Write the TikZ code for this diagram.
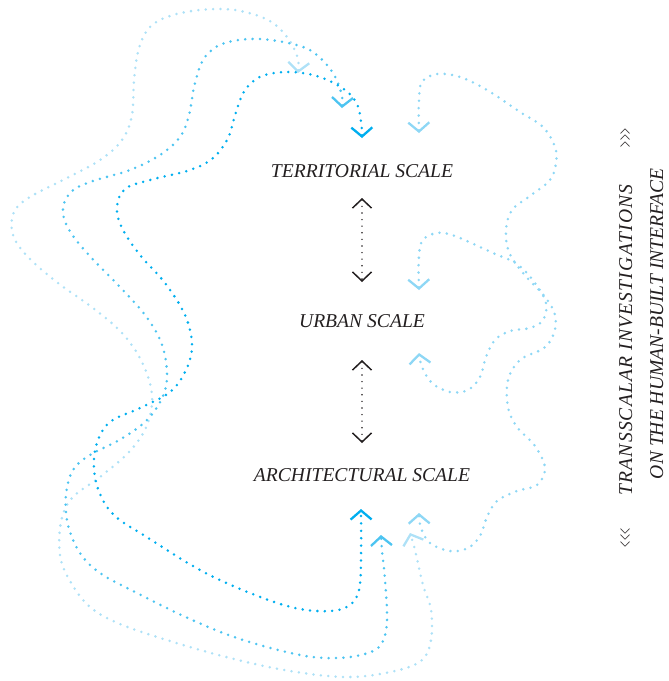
\documentclass[tikz,border=0pt]{standalone}
\usepackage{fontspec}
\setmainfont{Liberation Serif}
\newfontfamily\trackedserif[LetterSpace=6]{Liberation Serif}
\usetikzlibrary{arrows.meta}

\definecolor{inkblack}{HTML}{231F20}
\definecolor{cyanA}{HTML}{00AEEF}
\definecolor{cyanB}{HTML}{4DC4F1}
\definecolor{cyanC}{HTML}{AEE1F7}
\definecolor{cyanR}{HTML}{8ED7F5}

\begin{document}
\begin{tikzpicture}[x=1pt,y=-1pt,
  lbl/.style={font=\fontsize{19.6}{23}\selectfont\itshape, text=inkblack, inner sep=0pt, anchor=base},
  loopline/.style={line width=2.8pt, line cap=round, dash pattern=on 0pt off 7.4pt,
    arrows={Straight Barb[length=9pt,width=21pt,line width=2.3pt]-Straight Barb[length=9pt,width=21pt,line width=2.3pt]}},
  linkline/.style={draw=inkblack, line width=1.6pt, line cap=round, dash pattern=on 0pt off 6.6pt,
    arrows={Straight Barb[length=9pt,width=19pt,line width=1.5pt]-Straight Barb[length=9pt,width=19pt,line width=1.5pt]}},
  flow/.style={smooth, tension=0.6}
]
\useasboundingbox (0,0) rectangle (669,681);

% scale labels
\node[lbl] (ter) at (362,177) {TERRITORIAL SCALE};
\node[lbl] (urb) at (362,327) {URBAN SCALE};
\node[lbl] (arc) at (362,481) {ARCHITECTURAL SCALE};

% side title
\node[lbl, font=\fontsize{19.6}{23}\selectfont\trackedserif\itshape, rotate=90] (title1) at (632,340) {TRANSSCALAR INVESTIGATIONS};
\node[lbl, rotate=90] (title2) at (663,324) {ON THE HUMAN-BUILT INTERFACE};
\node[lbl, font=\fontsize{21}{23}\selectfont\upshape, rotate=90] (chevL) at (632,538) {\scalebox{0.5}[1]{<\kern2pt<\kern2pt<}};
\node[lbl, font=\fontsize{21}{23}\selectfont\upshape, rotate=90] (chevR) at (632,138) {\scalebox{0.5}[1]{>\kern2pt>\kern2pt>}};

% arrow end points around the labels
\coordinate (ter-a) at (362,138);
\coordinate (ter-b) at (342,108);
\coordinate (ter-c) at (298,73);
\coordinate (ter-r) at (419,133);
\coordinate (ter-dn) at (362,198);
\coordinate (urb-up) at (362,282);
\coordinate (urb-dn) at (362,360);
\coordinate (urb-r) at (419,290);
\coordinate (urb-s) at (419,353);
\coordinate (arc-up) at (362,443);
\coordinate (arc-a) at (361,509);
\coordinate (arc-b) at (381,535);
\coordinate (arc-c) at (410,533);
\coordinate (arc-r) at (419,513);

% links between neighbouring scales
\draw[linkline] (ter-dn) -- (urb-up);
\draw[linkline] (urb-dn) -- (arc-up);

% outer loops on the left
\draw[loopline, cyanC] plot[flow] coordinates {(ter-c) (297,56) (287,37) (268,20) (235,10) (200,10) (170,16) (150,27) (139,48) (134,80) (132,115) (122,140) (100,160) (65,179) (30,197) (14,212) (13,235) (28,257) (58,283) (93,308) (122,333) (142,362) (152,395) (147,425) (130,451) (100,477) (72,498) (61,522) (60,555) (70,581) (90,607) (120,624) (170,641) (230,658) (290,671) (348,677) (395,671) (422,660) (431,640) (431,610) (423,585) (415,550) (arc-c)};

\draw[loopline, cyanB] plot[flow] coordinates {(ter-b) (341,92) (333,73) (318,56) (300,46) (260,39) (225,43) (205,57) (195,83) (189,115) (180,137) (160,155) (130,170) (93,181) (72,191) (63,208) (68,228) (87,253) (119,286) (145,315) (161,342) (167,372) (163,396) (147,420) (121,439) (90,455) (73,470) (66,495) (68,525) (80,553) (100,573) (135,592) (190,619) (240,639) (300,655) (338,658) (368,653) (382,643) (387,620) (385,580) (382,550) (arc-b)};

\draw[loopline, cyanA] plot[flow] coordinates {(ter-a) (361,122) (357,104) (345,90) (320,77) (290,72) (262,76) (245,90) (236,112) (228,138) (213,158) (190,170) (150,180) (125,189) (117,207) (122,228) (140,255) (165,283) (185,315) (192,345) (186,370) (170,392) (140,408) (110,422) (97,443) (94,468) (100,494) (115,516) (145,536) (200,570) (250,593) (295,608) (330,611) (350,605) (359,590) (361,560) (arc-a)};

% loops on the right
\draw[loopline, cyanR] plot[flow] coordinates {(ter-r) (419,100) (422,82) (437,74) (460,77) (487,90) (520,112) (543,127) (555,147) (556,163) (550,180) (530,196) (512,210) (506,230) (509,252) (523,273) (545,297) (555,315) (554,333) (544,348) (520,360) (508,380) (508,407) (517,427) (535,446) (545,468) (537,485) (517,491) (497,501) (487,517) (480,536) (468,548) (450,551) (430,543) (421,528) (arc-r)};

\draw[loopline, cyanR] plot[flow] coordinates {(urb-r) (419,256) (423,240) (437,233) (455,236) (493,253) (517,264) (535,283) (546,303) (543,320) (530,328) (510,331) (495,340) (486,357) (480,377) (468,390) (450,392) (432,383) (422,367) (urb-s)};
\end{tikzpicture}
\end{document}
